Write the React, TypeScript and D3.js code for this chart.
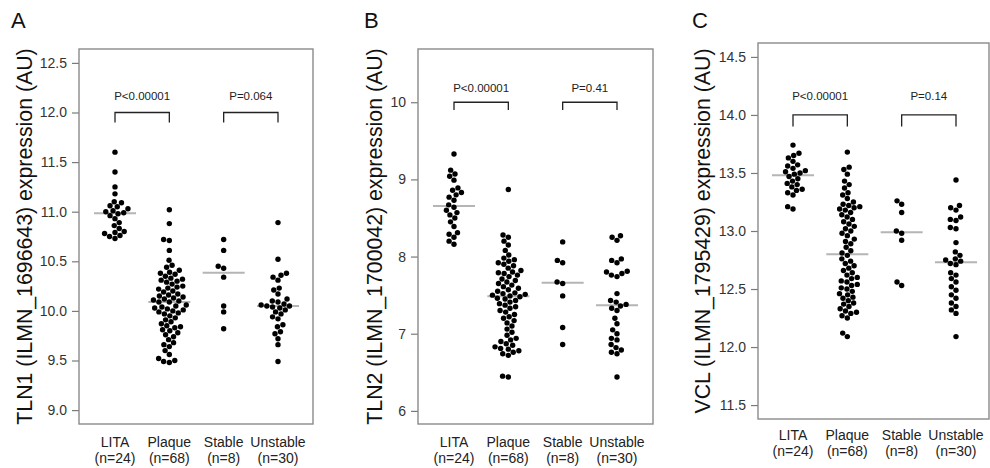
import React, { useEffect, useRef } from 'react';
import * as d3 from 'd3';

// groups on the x axis
const groups = ['LITA', 'Plaque', 'Stable', 'Unstable'];
const groupN = ['(n=24)', '(n=68)', '(n=8)', '(n=30)'];

// panel A - TLN1
const tln1Lita = [11.60, 11.40, 11.25, 11.18, 11.10, 11.09, 11.06, 11.05, 11.03, 11.01, 11.00, 10.99,
    10.98, 10.96, 10.93, 10.89, 10.86, 10.83, 10.80, 10.79, 10.78, 10.76, 10.75, 10.73];
const tln1Plaque = [11.02, 10.88, 10.72, 10.71, 10.61, 10.51, 10.46, 10.44, 10.41, 10.39,
    10.38, 10.37, 10.35, 10.33, 10.32, 10.31, 10.30, 10.29, 10.27, 10.25,
    10.24, 10.23, 10.22, 10.20, 10.19, 10.17, 10.16, 10.15, 10.14, 10.13,
    10.12, 10.11, 10.10, 10.09, 10.09, 10.06, 10.05, 10.04, 10.03, 10.02,
    10.01, 10.00, 9.99, 9.98, 9.97, 9.95, 9.93, 9.91, 9.89, 9.87,
    9.85, 9.84, 9.83, 9.81, 9.80, 9.78, 9.76, 9.74, 9.71, 9.68,
    9.66, 9.64, 9.60, 9.56, 9.52, 9.50, 9.49, 9.48];
const tln1Stable = [10.72, 10.61, 10.45, 10.43, 10.34, 10.05, 9.99, 9.82];
const tln1Unstable = [10.89, 10.52, 10.38, 10.36, 10.34, 10.31, 10.23, 10.21, 10.17, 10.12,
    10.10, 10.09, 10.07, 10.06, 10.05, 10.05, 10.04, 10.03, 10.01, 9.99,
    9.97, 9.94, 9.92, 9.86, 9.84, 9.79, 9.77, 9.72, 9.66, 9.49];
const tln1Ticks = [9.0, 9.5, 10.0, 10.5, 11.0, 11.5, 12.0, 12.5];
const tln1P = ['P<0.00001', 'P=0.064'];

// panel B - TLN2
const tln2Lita = [9.33, 9.12, 9.07, 9.04, 8.99, 8.89, 8.86, 8.83, 8.80, 8.77, 8.73, 8.67,
    8.64, 8.60, 8.57, 8.54, 8.50, 8.45, 8.39, 8.31, 8.29, 8.25, 8.20, 8.16];
const tln2Plaque = [8.87, 8.28, 8.25, 8.20, 8.15, 8.08, 8.02, 7.98, 7.96, 7.94,
    7.92, 7.90, 7.88, 7.85, 7.82, 7.80, 7.79, 7.78, 7.76, 7.74,
    7.71, 7.69, 7.67, 7.65, 7.63, 7.61, 7.59, 7.57, 7.55, 7.53,
    7.52, 7.51, 7.50, 7.49, 7.48, 7.46, 7.45, 7.43, 7.41, 7.39,
    7.37, 7.35, 7.33, 7.30, 7.28, 7.25, 7.22, 7.20, 7.17, 7.14,
    7.10, 7.06, 7.02, 6.98, 6.94, 6.92, 6.90, 6.87, 6.85, 6.83,
    6.81, 6.80, 6.78, 6.76, 6.74, 6.72, 6.45, 6.44];
const tln2Stable = [8.19, 7.95, 7.92, 7.67, 7.65, 7.49, 7.08, 6.86];
const tln2Unstable = [8.27, 8.25, 8.21, 7.97, 7.95, 7.92, 7.81, 7.80, 7.78, 7.76,
    7.74, 7.52, 7.43, 7.41, 7.38, 7.36, 7.33, 7.30, 7.20, 7.13,
    7.05, 7.00, 6.94, 6.92, 6.86, 6.82, 6.79, 6.76, 6.74, 6.44];
const tln2Ticks = [6, 7, 8, 9, 10];
const tln2P = ['P<0.00001', 'P=0.41'];

// panel C - VCL
const vclLita = [13.74, 13.67, 13.65, 13.63, 13.60, 13.57, 13.56, 13.54, 13.52, 13.51, 13.50, 13.49,
    13.47, 13.45, 13.43, 13.41, 13.40, 13.38, 13.36, 13.35, 13.33, 13.31, 13.21, 13.19];
const vclPlaque = [13.68, 13.55, 13.53, 13.49, 13.43, 13.40, 13.37, 13.33, 13.31, 13.28,
    13.25, 13.23, 13.22, 13.21, 13.20, 13.19, 13.18, 13.16, 13.14, 13.12,
    13.10, 13.08, 13.06, 13.04, 13.02, 13.00, 12.98, 12.96, 12.93, 12.91,
    12.89, 12.86, 12.83, 12.81, 12.79, 12.76, 12.74, 12.72, 12.70, 12.68,
    12.66, 12.64, 12.62, 12.60, 12.59, 12.57, 12.56, 12.54, 12.53, 12.51,
    12.50, 12.48, 12.46, 12.45, 12.43, 12.42, 12.40, 12.38, 12.37, 12.35,
    12.33, 12.31, 12.30, 12.29, 12.27, 12.25, 12.12, 12.09];
const vclStable = [13.26, 13.23, 13.16, 13.00, 12.98, 12.92, 12.56, 12.53];
const vclUnstable = [13.44, 13.22, 13.20, 13.18, 13.12, 13.10, 13.09, 13.03, 13.02, 12.90,
    12.82, 12.79, 12.76, 12.75, 12.74, 12.72, 12.71, 12.64, 12.62, 12.59,
    12.56, 12.52, 12.49, 12.45, 12.42, 12.38, 12.35, 12.32, 12.29, 12.09];
const vclTicks = [11.5, 12.0, 12.5, 13.0, 13.5, 14.0, 14.5];
const vclP = ['P<0.00001', 'P=0.14'];

const FONT = '"Liberation Sans", Arial, Helvetica, sans-serif';

const panels = [
    {
        letter: 'A', title: 'TLN1 (ILMN_1696643) expression (AU)',
        series: [tln1Lita, tln1Plaque, tln1Stable, tln1Unstable], ticks: tln1Ticks, fmt: '.1f', pv: tln1P,
        domain: [8.86, 12.64], bracket: 12.0,
        x0: 79, x1: 313, y0: 49, y1: 424, padL: 36, padR: 35, titleX: 32, letterX: 11, xlabY: 447,
    },
    {
        letter: 'B', title: 'TLN2 (ILMN_1700042) expression (AU)',
        series: [tln2Lita, tln2Plaque, tln2Stable, tln2Unstable], ticks: tln2Ticks, fmt: 'd', pv: tln2P,
        domain: [5.83, 10.69], bracket: 10.0,
        x0: 418, x1: 653, y0: 49, y1: 424, padL: 36, padR: 36, titleX: 382, letterX: 364, xlabY: 447,
    },
    {
        letter: 'C', title: 'VCL (ILMN_1795429) expression (AU)',
        series: [vclLita, vclPlaque, vclStable, vclUnstable], ticks: vclTicks, fmt: '.1f', pv: vclP,
        domain: [11.38, 14.62], bracket: 14.0,
        x0: 758, x1: 989, y0: 43, y1: 419, padL: 35, padR: 33, titleX: 710, letterX: 692, xlabY: 440,
    },
];

// beeswarm: place lowest values first, nearest free spot to the centre line
function swarm(ys: number[], r: number): number[] {
    const d = 2 * r;
    const order = ys.map((_, i) => i).sort((a, b) => ys[b] - ys[a]);
    const placed: { x: number; y: number }[] = [];
    const xs = new Array(ys.length).fill(0);
    for (const i of order) {
        const yi = ys[i];
        const near = placed.filter(p => Math.abs(p.y - yi) < d);
        const cands = [0];
        near.forEach(p => {
            const dx = Math.sqrt(d * d - (p.y - yi) ** 2);
            cands.push(p.x + dx, p.x - dx);
        });
        cands.sort((a, b) => Math.abs(a) - Math.abs(b) || a - b);
        const x = cands.find(c => near.every(p => (p.x - c) ** 2 + (p.y - yi) ** 2 >= d * d - 0.01)) ?? 0;
        xs[i] = x;
        placed.push({ x, y: yi });
    }
    return xs;
}

const App = () => {
    const ref = useRef<SVGSVGElement>(null);

    useEffect(() => {
        if (!ref.current) return;
        const svg = d3.select(ref.current);
        svg.selectAll('*').remove();

        panels.forEach(pn => {
            const g = svg.append('g').style('font-family', FONT);
            const y = d3.scaleLinear().domain(pn.domain).range([pn.y1, pn.y0]);
            const x = d3.scalePoint().domain(groups).range([pn.x0 + pn.padL, pn.x1 - pn.padR]);

            // panel letter
            g.append('text').attr('x', pn.letterX).attr('y', 28)
                .attr('font-size', 22).attr('fill', '#111').text(pn.letter);

            // y axis title
            g.append('text')
                .attr('transform', `translate(${pn.titleX},${(pn.y0 + pn.y1) / 2}) rotate(-90)`)
                .attr('text-anchor', 'middle').attr('font-size', 21.3).attr('fill', '#111')
                .text(pn.title);

            // y axis
            const ax = g.append('g').attr('transform', `translate(${pn.x0},0)`)
                .call(d3.axisLeft(y).tickValues(pn.ticks).tickFormat(d3.format(pn.fmt)).tickSize(7).tickPadding(5));
            ax.select('.domain').remove();
            ax.selectAll('.tick line').attr('stroke', '#7a7a7a').attr('stroke-width', 1.2);
            ax.selectAll('.tick text').attr('font-size', 14).attr('fill', '#333').style('font-family', FONT);

            // box
            g.append('rect').attr('x', pn.x0).attr('y', pn.y0)
                .attr('width', pn.x1 - pn.x0).attr('height', pn.y1 - pn.y0)
                .attr('fill', 'none').attr('stroke', '#8a8a8a').attr('stroke-width', 1.4);

            // x labels
            groups.forEach((grp, i) => {
                g.append('text').attr('x', x(grp)!).attr('y', pn.xlabY)
                    .attr('text-anchor', 'middle').attr('font-size', 14).attr('fill', '#222').text(grp);
                g.append('text').attr('x', x(grp)!).attr('y', pn.xlabY + 15.5)
                    .attr('text-anchor', 'middle').attr('font-size', 14).attr('fill', '#222').text(groupN[i]);
            });

            // median lines
            pn.series.forEach((vals, i) => {
                const cx = x(groups[i])!;
                const m = d3.median(vals)!;
                g.append('line').attr('x1', cx - 21).attr('x2', cx + 21)
                    .attr('y1', y(m)).attr('y2', y(m))
                    .attr('stroke', '#b5b5b5').attr('stroke-width', 2);
            });

            // points
            pn.series.forEach((vals, i) => {
                const cx = x(groups[i])!;
                const ys = vals.map(v => y(v));
                const xs = swarm(ys, 2.9);
                g.append('g').selectAll('circle').data(vals).enter().append('circle')
                    .attr('cx', (_, k) => cx + xs[k])
                    .attr('cy', (_, k) => ys[k])
                    .attr('r', 2.7)
                    .attr('fill', '#000');
            });

            // significance brackets
            [[0, 1], [2, 3]].forEach(([a, b], k) => {
                const xa = x(groups[a])!;
                const xb = x(groups[b])!;
                const yb = y(pn.bracket);
                const yl = y(pn.bracket - 0.1);
                g.append('path')
                    .attr('d', `M${xa},${yl}V${yb}H${xb}V${yl}`)
                    .attr('fill', 'none').attr('stroke', '#222').attr('stroke-width', 1.3);
                g.append('text').attr('x', (xa + xb) / 2).attr('y', y(pn.bracket + 0.13))
                    .attr('text-anchor', 'middle').attr('font-size', 11.5).attr('fill', '#222')
                    .text(pn.pv[k]);
            });
        });
    }, []);

    return (
        <svg ref={ref} width={990} height={468}
            style={{ position: 'absolute', left: 0, top: 0, background: '#fff' }} />
    );
};

export default App;
